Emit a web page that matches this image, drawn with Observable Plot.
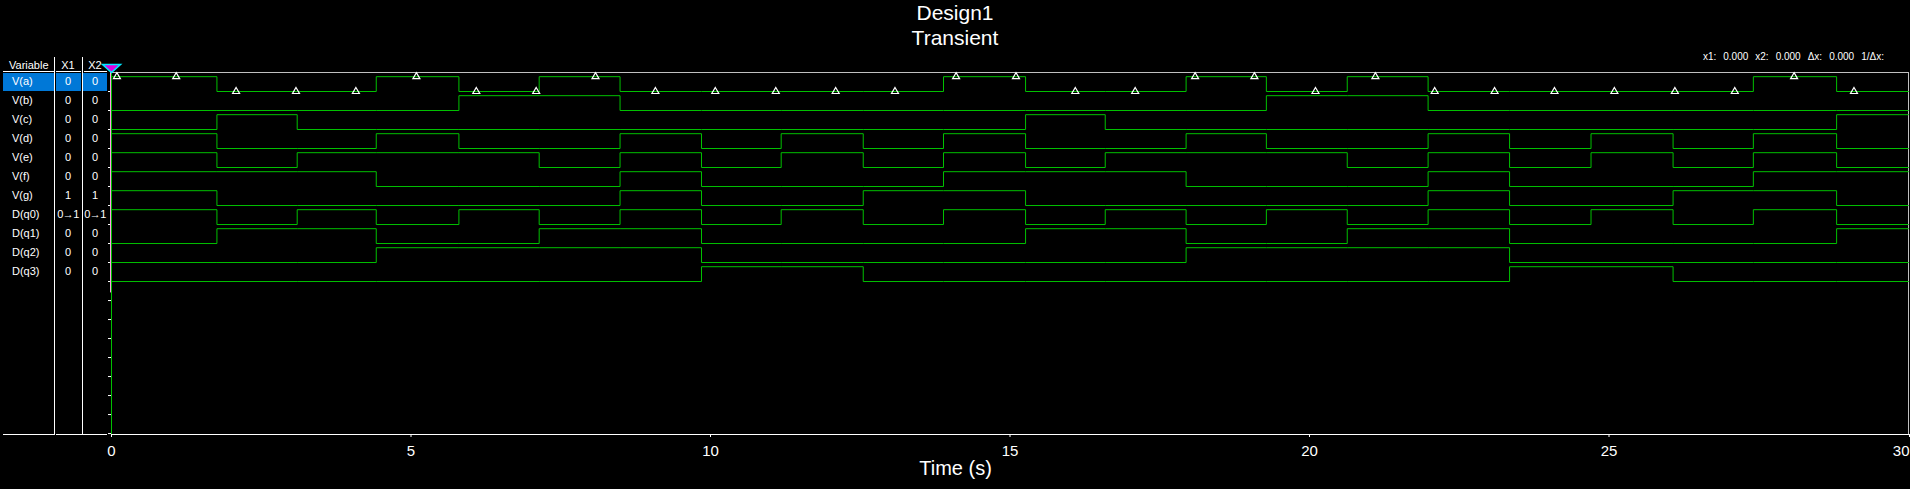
<!DOCTYPE html>
<html>
<head>
<meta charset="utf-8">
<script src="https://cdn.jsdelivr.net/npm/d3@7"></script>
<script src="https://cdn.jsdelivr.net/npm/@observablehq/plot@0.6"></script>
<style>
  html, body { margin: 0; padding: 0; background: #000; }
  body { width: 1910px; height: 489px; overflow: hidden; position: relative;
         font-family: "Liberation Sans", Arial, sans-serif; color: #fff; }
  #title { position: absolute; left: 0; top: 1px; width: 1910px; text-align: center;
           font-size: 21px; line-height: 24.5px; z-index: 2; }
  #info { position: absolute; right: 26px; top: 50px; font-size: 10px; line-height: 13px; white-space: pre; z-index: 2; }
  #info span { margin-left: 7px; }
  #chart { position: absolute; left: 0; top: 48px; z-index: 1; }
  #table { position: absolute; left: 0; top: 0; z-index: 2; }
  .abs { position: absolute; }
  .cell { position: absolute; font-size: 11px; line-height: 13px; white-space: nowrap; }
</style>
</head>
<body>
<div id="title">Design1<br>Transient</div>
<div id="info"></div>
<div id="chart"></div>
<div id="table"></div>
<script>
// ---------------- data ----------------
const variables = ["V(a)", "V(b)", "V(c)", "V(d)", "V(e)", "V(f)", "V(g)", "D(q0)", "D(q1)", "D(q2)", "D(q3)"];
const x1Values  = ["0", "0", "0", "0", "0", "0", "1", "0\u21921", "0", "0", "0"];
const x2Values  = ["0", "0", "0", "0", "0", "0", "1", "0\u21921", "0", "0", "0"];

// times (s) where the logic levels change
const transitionTimes = [1.76, 3.10, 4.42, 5.80, 7.14, 8.49, 9.85, 11.18, 12.55, 13.89, 15.26,
                         16.59, 17.94, 19.28, 20.63, 21.98, 23.34, 24.70, 26.07, 27.41, 28.80];

// level in each interval (before first transition, then after each transition)
const va  = [1,0,0,1,0,1,0,0,0,0,1,0,0,1,0,1,0,0,0,0,1,0];
const vb  = [0,0,0,0,1,1,0,0,0,0,0,0,0,0,1,1,0,0,0,0,0,0];
const vc  = [0,1,0,0,0,0,0,0,0,0,0,1,0,0,0,0,0,0,0,0,0,1];
const vd  = [1,0,0,1,0,0,1,0,1,0,1,0,0,1,0,0,1,0,1,0,1,0];
const ve  = [1,0,1,1,1,0,1,0,1,0,1,0,1,1,1,0,1,0,1,0,1,0];
const vf  = [1,1,1,0,0,0,1,0,0,0,1,1,1,0,0,0,1,0,0,0,1,1];
const vg  = [1,0,0,0,0,0,1,0,0,1,1,0,0,0,0,0,1,0,0,1,1,0];
const dq0 = [1,0,1,0,1,0,1,0,1,0,1,0,1,0,1,0,1,0,1,0,1,0];
const dq1 = [0,1,1,0,0,1,1,0,0,0,0,1,1,0,0,1,1,0,0,0,0,1];
const dq2 = [0,0,0,1,1,1,1,0,0,0,0,0,0,1,1,1,1,0,0,0,0,0];
const dq3 = [0,0,0,0,0,0,0,1,1,0,0,0,0,0,0,0,0,1,1,0,0,0];
const seriesLevels = [va, vb, vc, vd, ve, vf, vg, dq0, dq1, dq2, dq3];

// triangle markers drawn on the V(a) trace
const markerTimes = [0.09, 1.08, 2.08, 3.08, 4.08, 5.09, 6.09, 7.09, 8.08, 9.08, 10.08, 11.09, 12.09, 13.08, 14.10,
                     15.10, 16.09, 17.09, 18.09, 19.08, 20.10, 21.10, 22.09, 23.09, 24.09, 25.09, 26.10, 27.10, 28.09, 29.09];

const cursorTimes = [0, 0];           // X1, X2
const xTicks = [0, 5, 10, 15, 20, 25];
const xTickLast = [30];
const rowTicks = [0, 1, 2, 3, 4, 5, 6, 7, 8, 9, 10, 11, 12, 13, 14, 15, 16, 17, 18];
const tEnd = 30;

// ---------------- build ----------------
const HIGH = 0.78;   // height of a logic "1" relative to row pitch
const GREEN = "#00c000";

const stepData = [];
seriesLevels.forEach((lv, k) => {
  lv.forEach((v, i) => {
    stepData.push({name: variables[k], t: i === 0 ? 0 : transitionTimes[i - 1], y: k - HIGH * v});
  });
  stepData.push({name: variables[k], t: tEnd, y: k - HIGH * lv[lv.length - 1]});
});

const markerData = markerTimes.map(t => {
  const idx = transitionTimes.filter(s => s <= t).length;
  return {t, y: 0 - HIGH * va[idx]};
});

const cursorSymbol = {
  draw(ctx, size) {
    const w = Math.sqrt(size);
    ctx.moveTo(-w, -w * 0.45);
    ctx.lineTo(w, -w * 0.45);
    ctx.lineTo(0, w * 0.45);
    ctx.closePath();
  }
};

const plot = Plot.plot({
  width: 1910,
  height: 441,
  marginLeft: 111,
  marginRight: 2,
  marginTop: 24,
  marginBottom: 55,
  style: {background: "#000", color: "#fff", fontFamily: "'Liberation Sans', Arial, sans-serif", overflow: "visible"},
  x: {domain: [0, tEnd]},
  y: {domain: [18.05, -1]},
  marks: [
    Plot.frame({anchor: "top", stroke: "#c0c0c0"}),
    Plot.frame({anchor: "right", stroke: "#c0c0c0"}),
    Plot.frame({anchor: "bottom", stroke: "#fff"}),
    Plot.axisY(rowTicks, {tickSize: 3, tickFormat: () => "", stroke: "#fff", label: null}),
    Plot.axisX(xTicks, {tickSize: 3, tickPadding: 8, fontSize: 15, stroke: "#fff", fill: "#fff", label: null}),
    Plot.axisX(xTickLast, {tickSize: 3, tickPadding: 8, fontSize: 15, stroke: "#fff", fill: "#fff", label: null, textAnchor: "end", dx: 1}),
    Plot.text(["Time (s)"], {frameAnchor: "bottom", dx: -54.5, dy: 34, fontSize: 20, fill: "#fff", lineAnchor: "middle"}),
    Plot.ruleX([cursorTimes[0]], {stroke: "#ff9be6", dx: -1, y1: -1, y2: 10.6}),
    Plot.ruleX([cursorTimes[1]], {stroke: GREEN}),
    Plot.line(stepData, {x: "t", y: "y", z: "name", curve: "step-after", stroke: GREEN, strokeWidth: 1}),
    Plot.dot(markerData, {x: "t", y: "y", symbol: "triangle", r: 2.6, stroke: "#fff", fill: "none", strokeWidth: 1.2}),
    Plot.dot([cursorTimes[1]], {x: d => d, y: -1, dy: -4, symbol: cursorSymbol, r: 5.1, fill: "#e000e0", stroke: "#00e8ff", strokeWidth: 1.5})
  ]
});
document.getElementById("chart").appendChild(plot);

// info text
const info = document.getElementById("info");
["x1:", "0.000", "x2:", "0.000", "\u0394x:", "0.000", "1/\u0394x:"].forEach(s => {
  const sp = document.createElement("span"); sp.textContent = s; info.appendChild(sp);
});

// variable table (rows aligned with the plot's y scale)
const yS = plot.scale("y");
const svgTop = 48;
const table = document.getElementById("table");
function box(x, y, w, h, color) {
  const d = document.createElement("div");
  d.className = "abs";
  Object.assign(d.style, {left: x + "px", top: y + "px", width: w + "px", height: h + "px", background: color});
  table.appendChild(d);
}
function cell(text, x, yc, align, small) {
  const d = document.createElement("div");
  d.className = "cell";
  d.textContent = text;
  d.style.top = (yc - 6.5) + "px";
  if (small) d.style.letterSpacing = "-0.6px";
  if (align === "center") { d.style.left = (x - 30) + "px"; d.style.width = "60px"; d.style.textAlign = "center"; }
  else d.style.left = x + "px";
  table.appendChild(d);
}
const rowTop = k => svgTop + yS.apply(k - 1);
const axisBottom = svgTop + yS.apply(18.05);
// selection highlight on first row
[[3, 51], [56, 25], [83, 24]].forEach(([x, w]) => box(x, rowTop(0) + 1, w, 18, "#0078d7"));
// header underline
[[3, 51], [56, 25], [84, 23]].forEach(([x, w]) => box(x, rowTop(0) - 1, w, 1, "#fff"));
// column dividers
box(54, 57, 1, axisBottom - 57 + 1, "#fff");
box(82, 57, 1, axisBottom - 57 + 1, "#fff");
// bottom line segments
box(3, axisBottom, 52, 1, "#fff");
box(56, axisBottom, 51, 1, "#fff");
// header text
cell("Variable", 9, 65, "left");
cell("X1", 68, 65, "center");
cell("X2", 95, 65, "center");
variables.forEach((v, k) => {
  const yc = svgTop + yS.apply(k - 0.5);
  const long = x1Values[k].length > 2;
  cell(v, 12, yc, "left");
  cell(x1Values[k], 68, yc, "center", long);
  cell(x2Values[k], 95, yc, "center", long);
});
</script>
</body>
</html>
